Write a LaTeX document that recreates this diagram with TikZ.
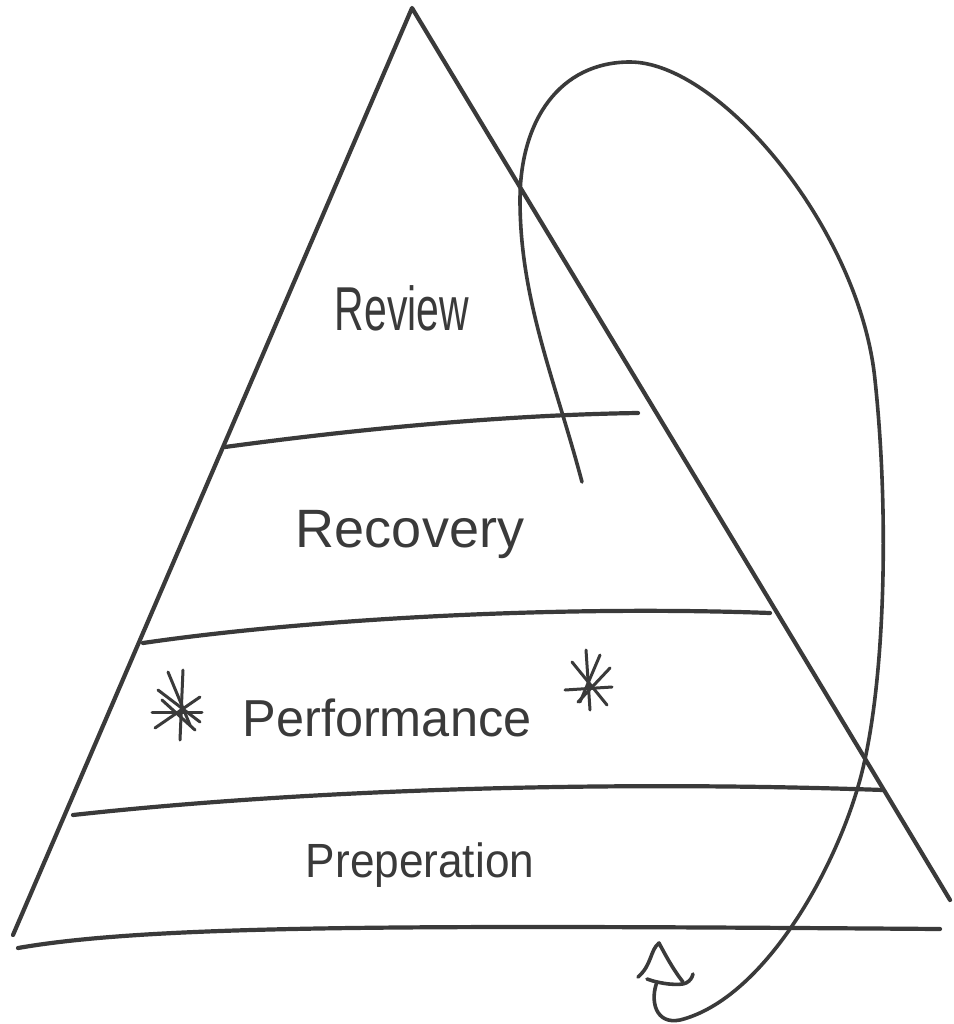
\documentclass[tikz,border=0pt]{standalone}
\usepackage{fontspec}
\setmainfont{Liberation Sans}
\begin{document}
\begin{tikzpicture}[x=1pt,y=-1pt,
  pen/.style={draw=ink,line width=4.2pt,line cap=round,line join=round},
  thin pen/.style={draw=ink,line width=3pt,line cap=round,line join=round},
  word/.style={text=ink,inner sep=0pt}]
\definecolor{ink}{HTML}{3A3A3A}
\useasboundingbox[fill=white] (0,0) rectangle (953,1024);
% triangle edges
\draw[pen] (13,935) -- (412,8) .. controls (600,320) and (800,650) .. (950,900);
% band lines
\draw[pen] (225,447) .. controls (350,430) and (500,415) .. (638,413);
\draw[pen] (143,643) .. controls (300,620) and (550,605) .. (770,613);
\draw[pen] (73,815) .. controls (300,790) and (600,780) .. (883,790);
\draw[pen] (18,948) .. controls (150,925) and (400,925) .. (940,929);
% labels
\node[word] (review) at (402,308) {\fontsize{62}{62}\selectfont\scalebox{0.66}[1]{Review}};
\node[word] (recovery) at (410,535) {\fontsize{54}{54}\selectfont\scalebox{1.0}[1]{Recovery}};
\node[word] (performance) at (387,718) {\fontsize{52}{52}\selectfont\scalebox{0.97}[1]{Performance}};
\node[word] (preperation) at (420,865) {\fontsize{48}{48}\selectfont\scalebox{0.92}[1]{Preperation}};
% stars
\draw[thin pen] (183,670) -- (180,740);
\draw[thin pen] (158,690) -- (200,722);
\draw[thin pen] (155,728) -- (200,697);
\draw[thin pen] (168,672) -- (190,725);
\draw[thin pen] (152,712) -- (202,712);
\draw[thin pen] (162,700) -- (195,730);
\draw[thin pen] (586,650) -- (590,710);
\draw[thin pen] (572,662) -- (607,705);
\draw[thin pen] (565,690) -- (612,687);
\draw[thin pen] (600,655) -- (580,702);
\draw[thin pen] (578,702) -- (610,668);
% cycle arrow
\draw[pen, line width=3.6pt] (582,482) .. controls (555,380) and (520,300) .. (520,200)
  .. controls (520,120) and (560,62) .. (630,62)
  .. controls (720,62) and (860,230) .. (875,380)
  .. controls (890,520) and (885,700) .. (857,790)
  .. controls (830,880) and (760,1000) .. (680,1020)
  .. controls (655,1025) and (650,1000) .. (657,982);
\draw[pen, line width=3.6pt] (638,977) .. controls (652,965) and (650,950) .. (659,943)
  .. controls (668,960) and (675,972) .. (683,982);
\draw[pen, line width=3.6pt] (647,979) .. controls (660,984) and (680,986) .. (686,983)
  .. controls (690,981) and (692,978) .. (693,974);
\end{tikzpicture}
\end{document}
